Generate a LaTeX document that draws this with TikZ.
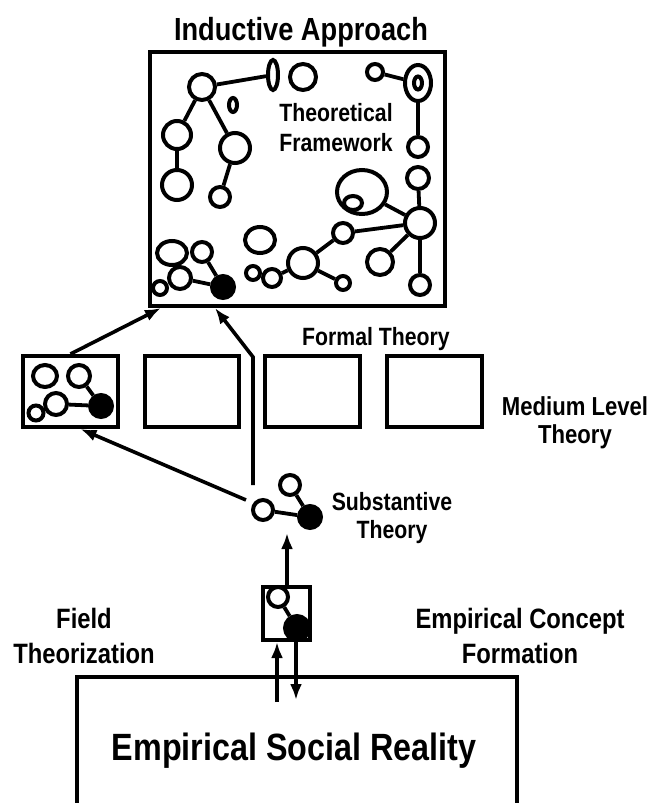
\documentclass[tikz,border=0pt]{standalone}
\usepackage{fontspec}
\setmainfont{Liberation Sans}[FakeStretch=0.85]
\usetikzlibrary{arrows.meta,shapes.geometric}

\begin{document}
\begin{tikzpicture}[x=1pt,y=1pt,
  blob/.style={draw,circle,line width=4pt},
  oval/.style={draw,ellipse,line width=4pt},
  dot/.style={draw,fill,circle,line width=4pt},
  box/.style={draw,rectangle,line width=4pt},
  link/.style={line width=3.8pt},
  flow/.style={line width=3.6pt,-{Latex[length=16pt,width=12pt]}},
  lbl/.style={font=\bfseries\fontsize{25}{30}\selectfont,align=center}]
\tikzstyle{every node}+=[inner sep=0pt]
\useasboundingbox (0,0) rectangle (665,-803);

% inductive approach
\node [lbl,font=\bfseries\fontsize{32}{36}\selectfont,anchor=base] (title) at (301,-40) {Inductive Approach};
\node [box,minimum width=295pt,minimum height=254pt] (frame) at (297.5,-179) {};
\node [lbl,anchor=base] (tf) at (336,-151) {Theoretical\\Framework};

\node [blob,minimum size=26pt] (t1) at (202,-87) {};
\node [oval,minimum width=10pt,minimum height=30pt] (t2) at (273,-75) {};
\node [blob,minimum size=26pt] (t3) at (303,-77) {};
\node [blob,minimum size=16pt] (t4) at (375,-72) {};
\node [oval,minimum width=26pt,minimum height=36pt] (t5) at (418,-83) {};
\node [oval,minimum width=8pt,minimum height=13pt] (t5i) at (418,-83) {};
\node [oval,minimum width=8pt,minimum height=14pt] (t6) at (233,-105) {};
\node [blob,minimum size=28pt] (t7) at (177,-135) {};
\node [blob,minimum size=30pt] (t8) at (235,-148) {};
\node [blob,minimum size=30pt] (t9) at (177,-185) {};
\node [blob,minimum size=20pt] (t10) at (220,-197) {};
\node [blob,minimum size=20pt] (t11) at (418,-147) {};
\node [blob,minimum size=22pt] (t12) at (418,-178) {};
\node [oval,minimum width=50pt,minimum height=44pt] (t13) at (362,-192) {};
\node [oval,minimum width=18pt,minimum height=14pt] (t13i) at (353,-203) {};
\node [blob,minimum size=30pt] (t14) at (420,-223) {};
\node [blob,minimum size=20pt] (t15) at (343,-233) {};
\node [blob,minimum size=26pt] (t16) at (380,-262) {};
\node [blob,minimum size=20pt] (t17) at (420,-285) {};
\node [oval,minimum width=30pt,minimum height=26pt] (t18) at (260,-240) {};
\node [blob,minimum size=30pt] (t19) at (303,-263) {};
\node [blob,minimum size=18pt] (t20) at (272,-278) {};
\node [blob,minimum size=14pt] (t21) at (253,-273) {};
\node [blob,minimum size=14pt] (t22) at (343,-283) {};
\node [oval,minimum width=30pt,minimum height=24pt] (t23) at (172,-253) {};
\node [blob,minimum size=20pt] (t24) at (202,-252) {};
\node [blob,minimum size=22pt] (t25) at (180,-278) {};
\node [blob,minimum size=14pt] (t26) at (160,-288) {};
\node [dot,minimum size=22pt] (t27) at (223,-287) {};

\foreach \a/\b in {t1/t2,t1/t7,t1/t8,t7/t9,t8/t10,t4/t5,t5/t11,t12/t14,t13/t14,
  t14/t15,t14/t16,t14/t17,t15/t19,t19/t22,t19/t20,t24/t27,t25/t27}
  \draw [link] (\a) -- (\b);

% medium level theory
\node [lbl,anchor=base] (formal) at (376,-345) {Formal Theory};
\node [box,minimum width=95pt,minimum height=71pt] (mA) at (70.5,-391.5) {};
\node [box,minimum width=94pt,minimum height=71pt] (mB) at (191.5,-391.5) {};
\node [box,minimum width=95pt,minimum height=71pt] (mC) at (312.5,-391.5) {};
\node [box,minimum width=95pt,minimum height=71pt] (mD) at (434.5,-391.5) {};
\node [lbl,font=\bfseries\fontsize{26}{28}\selectfont,anchor=base] (medium) at (575,-443) {Medium Level\\Theory};

\node [oval,minimum width=24pt,minimum height=22pt] (m1) at (45,-376) {};
\node [blob,minimum size=22pt] (m2) at (79,-376) {};
\node [blob,minimum size=22pt] (m3) at (56,-404) {};
\node [blob,minimum size=15pt] (m4) at (36,-413) {};
\node [dot,minimum size=22pt] (m5) at (101,-406) {};
\draw [link] (m2) -- (m5);
\draw [link] (m3) -- (m5);

% substantive theory
\node [blob,minimum size=20pt] (s1) at (290,-485) {};
\node [blob,minimum size=20pt] (s2) at (263,-510) {};
\node [dot,minimum size=22pt] (s3) at (310,-517) {};
\draw [link] (s1) -- (s3);
\draw [link] (s2) -- (s3);
\node [lbl,font=\bfseries\fontsize{25}{28}\selectfont,anchor=base] (subst) at (392,-538) {Substantive\\Theory};

\coordinate (sUp) at (253,-485);
\coordinate (bend) at (253,-357);
\coordinate (sSide) at (246,-500);
\coordinate (sIn) at (287,-533);
\draw [flow] (mA.north) -- ([xshift=13pt]frame.south west);
\draw [flow] (sUp) -- (bend) -- ([xshift=67pt]frame.south west);
\draw [flow] (sSide) -- ([xshift=10pt]mA.south);

% empirical concept
\node [box,minimum width=47pt,minimum height=53pt] (e) at (286.5,-613.5) {};
\node [blob,minimum size=20pt] (e1) at (278,-597) {};
\node [dot,minimum size=24pt] (e2) at (297,-628) {};
\draw [link] (e1) -- (e2);
\draw [flow] (sIn |- e.north) -- (sIn);

\node [lbl,font=\bfseries\fontsize{28}{35}\selectfont,anchor=base] (field) at (84,-663) {Field\\Theorization};
\node [lbl,font=\bfseries\fontsize{28}{35}\selectfont,anchor=base] (ecf) at (520,-663) {Empirical Concept\\Formation};

% empirical social reality
\node [box,minimum width=440pt,minimum height=170pt,anchor=north west] (reality) at (75,-675) {};
\node [font=\bfseries\fontsize{38}{44}\selectfont,anchor=base] (esr) at (294,-760) {Empirical Social Reality};
\coordinate (rUp) at (277,-702);
\coordinate (rDown) at (296,-700);
\draw [flow] (rUp) -- (rUp |- e.south);
\draw [flow] (rDown |- e.south) -- (rDown);
\end{tikzpicture}
\end{document}
